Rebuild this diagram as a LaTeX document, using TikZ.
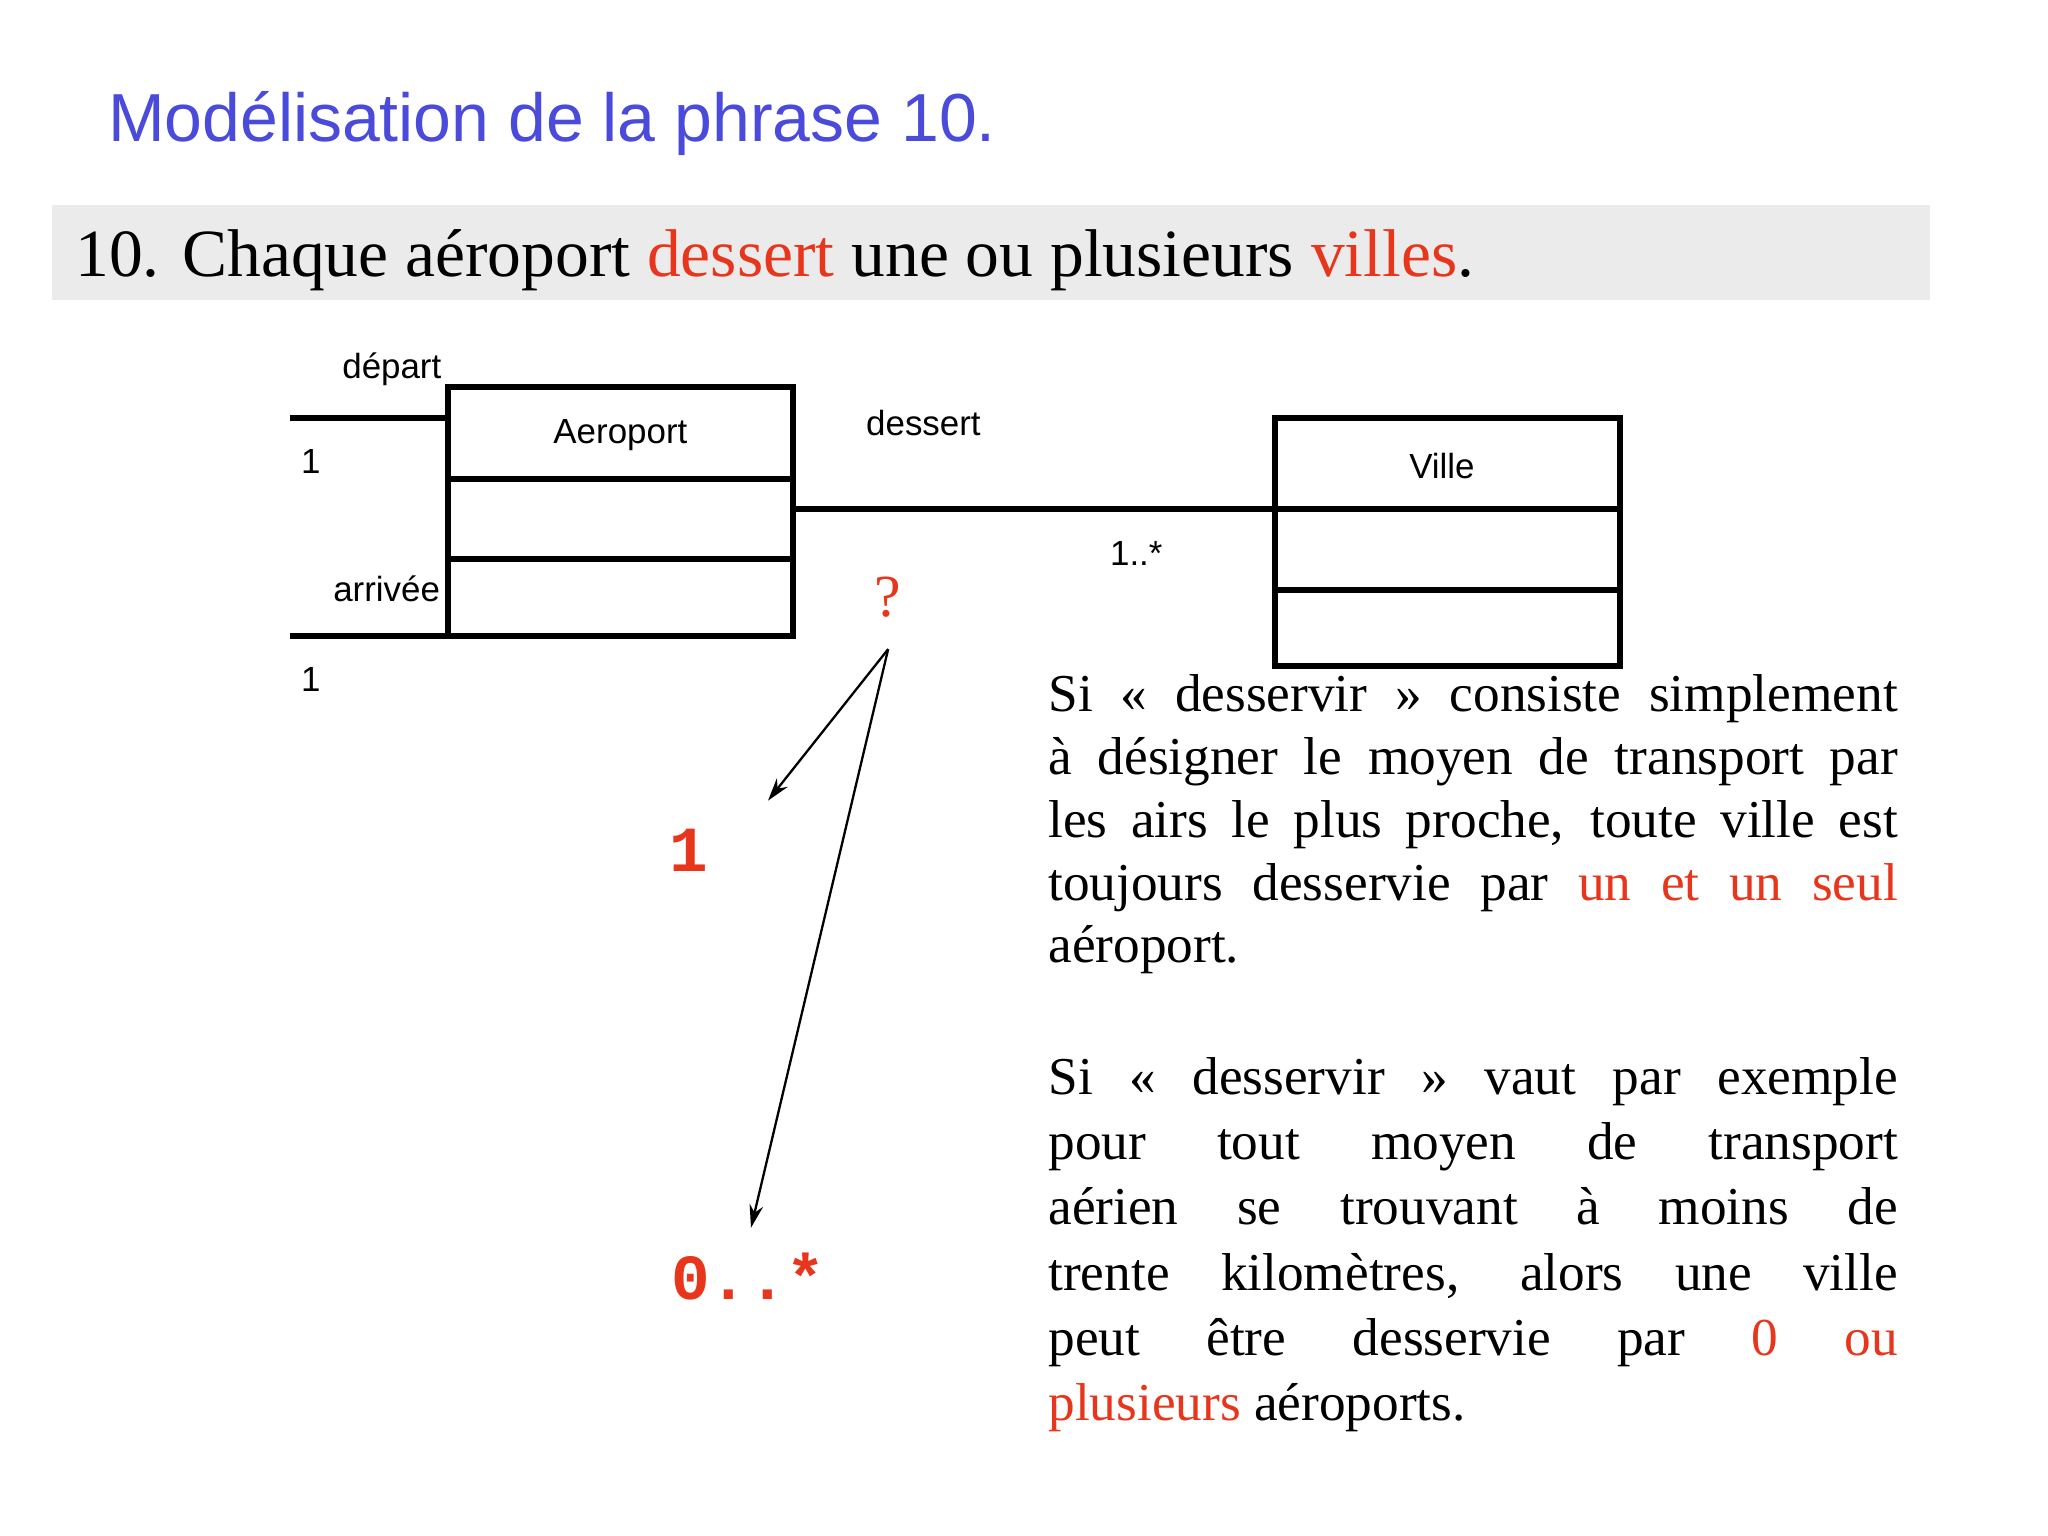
\documentclass[tikz,border=0pt]{standalone}
\usepackage{fontspec}
\setmainfont{Liberation Serif}
\newfontfamily\tsans{Liberation Sans}
\newfontfamily\tmono{Liberation Mono}
\definecolor{ttlblue}{HTML}{4A4ADB}
\definecolor{redw}{HTML}{E8361C}
\definecolor{band}{HTML}{EBEBEB}
\tikzset{
  uml/.style={draw,line width=1.3pt},
  lbl/.style={font=\tsans\fontsize{7.6pt}{9pt}\selectfont,inner sep=0},
  big/.style={font=\tmono\bfseries\fontsize{14pt}{16pt}\selectfont,text=redw,inner sep=0},
  arr/.style={-{Stealth[length=5pt,width=3pt]},line width=0.5pt}
}
\usetikzlibrary{arrows.meta}
\begin{document}
\begin{tikzpicture}[x=0.01cm,y=-0.01cm]
\useasboundingbox (0,0) rectangle (1568,1176);
\fill[white] (0,0) rectangle (1568,1176);
\node[anchor=base west,text=ttlblue,font=\tsans\fontsize{14.8pt}{17pt}\selectfont,inner sep=0] (title) at (82,108) {Modélisation de la phrase 10.};
\fill[band] (40,157) rectangle (1478,230);
\node[anchor=base west,font=\fontsize{14.7pt}{17pt}\selectfont,inner sep=0] (phrase) at (57,212) {10. Chaque aéroport \textcolor{redw}{dessert} une ou plusieurs \textcolor{redw}{villes}.};
% Aeroport
\draw[uml] (343,296) rectangle (607,487);
\draw[uml] (343,367) -- (607,367);
\draw[uml] (343,428) -- (607,428);
\node[lbl] (aero) at (475,333) {Aeroport};
% Ville
\draw[uml] (976,320) rectangle (1240,510);
\draw[uml] (976,390) -- (1240,390);
\draw[uml] (976,452) -- (1240,452);
\node[lbl] (ville) at (1104,357) {Ville};
\coordinate (d1) at (222,320); \coordinate (d2) at (343,320);
\coordinate (a1) at (222,487); \coordinate (a2) at (343,487);
\coordinate (s1) at (607,390); \coordinate (s2) at (976,390);
\draw[uml] (d1) -- (d2);
\draw[uml] (a1) -- (a2);
\draw[uml] (s1) -- (s2);
\node[lbl] (dep) at (300,283) {départ};
\node[lbl] (one1) at (238,353) {1};
\node[lbl] (arr) at (296,451) {arrivée};
\node[lbl] (one2) at (238,520) {1};
\node[lbl] (des) at (707,324) {dessert};
\node[lbl] (mult) at (870,424) {1..*};
\node[text=redw,font=\fontsize{13pt}{15pt}\selectfont,inner sep=0] (q) at (680,457) {?};
\coordinate (qs) at (680,497);
\coordinate (t1) at (588,613);
\coordinate (t2) at (575,940);
\draw[arr] (qs) -- (t1);
\draw[arr] (qs) -- (t2);
\node[big] (m1) at (527,651) {1};
\node[big] (m2) at (573,977) {0..*};
\node[anchor=base west,text width=6.5cm,align=justify,inner sep=0,font=\fontsize{11.6pt}{13.66pt}\selectfont] (para1) at (802,545) {\hyphenpenalty=10000 Si « desservir » consiste simplement\linebreak à désigner le moyen de transport par\linebreak les airs le plus proche, toute ville est\linebreak toujours desservie par \textcolor{redw}{un et un seul}\linebreak aéroport.};
\node[anchor=base west,text width=6.5cm,align=justify,inner sep=0,font=\fontsize{11.6pt}{14.2pt}\selectfont] (para2) at (802,838) {\hyphenpenalty=10000 Si « desservir » vaut par exemple\linebreak pour tout moyen de transport\linebreak aérien se trouvant à moins de\linebreak trente kilomètres, alors une ville\linebreak peut être desservie par \textcolor{redw}{0 ou}\linebreak \textcolor{redw}{plusieurs} aéroports.};
\end{tikzpicture}
\end{document}
